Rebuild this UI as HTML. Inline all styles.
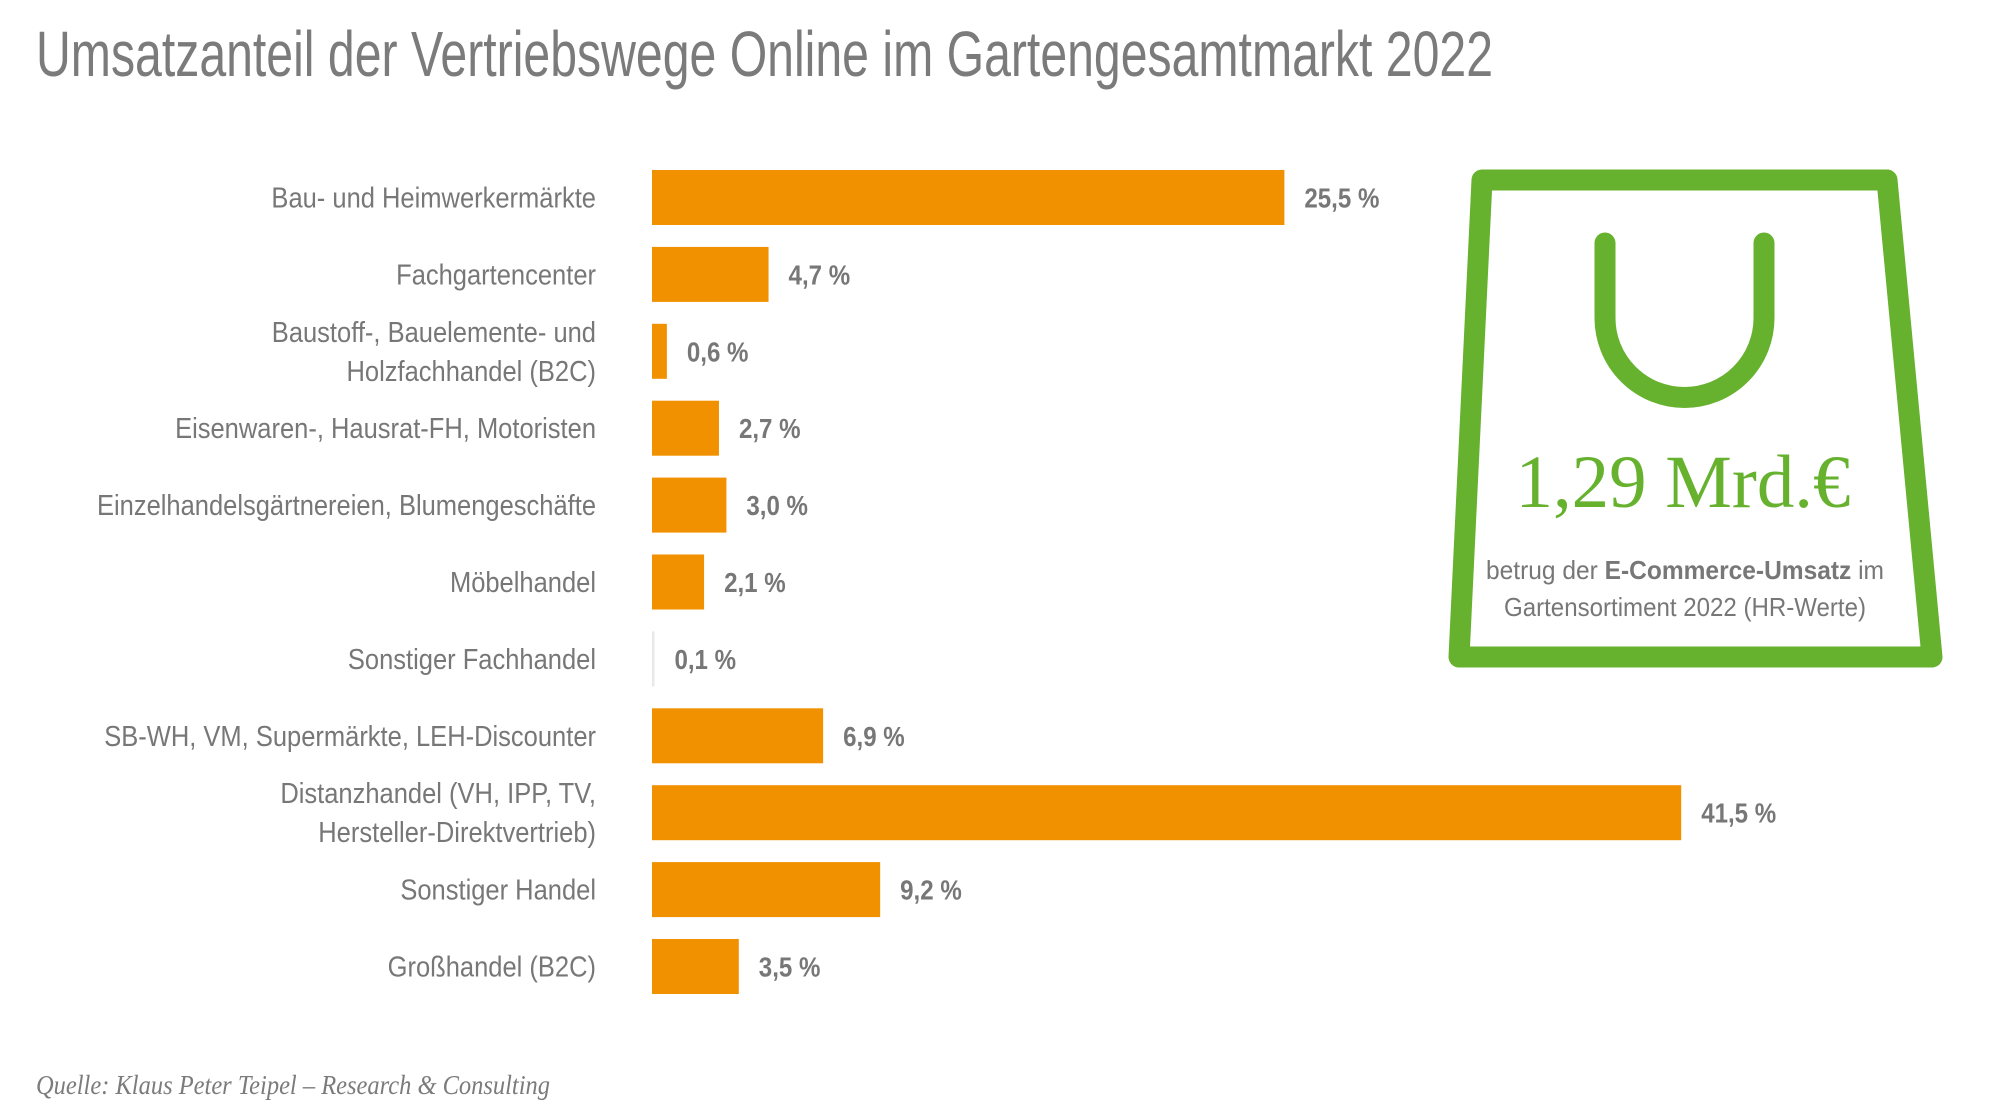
<!DOCTYPE html>
<html><head><meta charset="utf-8"><style>
html,body{margin:0;padding:0;background:#fff;}
svg{display:block;font-family:"Liberation Sans",sans-serif;}
</style></head><body>
<svg id="chart" width="2000" height="1119" viewBox="0 0 2000 1119">
<text x="36" y="76" font-size="64" fill="#7b7b7b" textLength="1457" lengthAdjust="spacingAndGlyphs">Umsatzanteil der Vertriebswege Online im Gartengesamtmarkt 2022</text>
<g id="bars"></g>
<g id="labels"></g>
<g id="values"></g>
<g>
<path d="M1482,180 L1887,180 L1932,657 L1459,657 Z" fill="none" stroke="#66b22e" stroke-width="21" stroke-linejoin="round"/>
<path d="M1605,243 L1605,318 A79.5,79.5 0 0 0 1764,318 L1764,243" fill="none" stroke="#66b22e" stroke-width="21" stroke-linecap="round"/>
<text x="1683" y="507" text-anchor="middle" font-family="Liberation Serif, serif" font-size="75" fill="#66b22e" textLength="335" lengthAdjust="spacingAndGlyphs">1,29 Mrd.€</text>
<text x="1685" y="579" text-anchor="middle" font-size="26" fill="#777" textLength="398" lengthAdjust="spacingAndGlyphs">betrug der <tspan font-weight="bold">E-Commerce-Umsatz</tspan> im</text>
<text x="1685" y="616" text-anchor="middle" font-size="26" fill="#777" textLength="362" lengthAdjust="spacingAndGlyphs">Gartensortiment 2022 (HR-Werte)</text>
</g>
<text x="36" y="1094" font-family="Liberation Serif, serif" font-style="italic" font-size="27" fill="#7b7b7b" textLength="514" lengthAdjust="spacingAndGlyphs">Quelle: Klaus Peter Teipel – Research &amp; Consulting</text>
</svg>
<script>
const categories = [
 ["Bau- und Heimwerkermärkte"],
 ["Fachgartencenter"],
 ["Baustoff-, Bauelemente- und ","Holzfachhandel (B2C)"],
 ["Eisenwaren-, Hausrat-FH, Motoristen"],
 ["Einzelhandelsgärtnereien, Blumengeschäfte"],
 ["Möbelhandel"],
 ["Sonstiger Fachhandel"],
 ["SB-WH, VM, Supermärkte, LEH-Discounter"],
 ["Distanzhandel (VH, IPP, TV, ","Hersteller-Direktvertrieb)"],
 ["Sonstiger Handel"],
 ["Großhandel (B2C)"]
];
const values = [25.5, 4.7, 0.6, 2.7, 3.0, 2.1, 0.1, 6.9, 41.5, 9.2, 3.5];
const valueLabels = ["25,5 %","4,7 %","0,6 %","2,7 %","3,0 %","2,1 %","0,1 %","6,9 %","41,5 %","9,2 %","3,5 %"];

const NS = "http://www.w3.org/2000/svg";
const x0 = 652, pxPerPct = 24.8;
const y0 = 197.5, step = 76.9, barH = 55;
const xScale = v => x0 + v * pxPerPct;
const yScale = i => y0 + i * step;
const bars = document.getElementById('bars');
const labels = document.getElementById('labels');
const vals = document.getElementById('values');

values.forEach((v, i) => {
  const cy = yScale(i);
  const r = document.createElementNS(NS, 'rect');
  r.setAttribute('x', x0);
  r.setAttribute('y', cy - barH / 2);
  r.setAttribute('width', Math.max(xScale(v) - x0, 1));
  r.setAttribute('height', barH);
  r.setAttribute('fill', v < 0.3 ? '#e8e8e8' : '#f29100');
  
  
  bars.appendChild(r);

  const g = document.createElementNS(NS, 'g');
  g.setAttribute('transform', 'translate(' + (xScale(v) + 20) + ',' + (cy + 10) + ') scale(0.86,1)');
  const t = document.createElementNS(NS, 'text');
  t.setAttribute('font-size', '28');
  t.setAttribute('font-weight', 'bold');
  t.setAttribute('fill', '#777');
  t.textContent = valueLabels[i];
  
  
  g.appendChild(t);
  vals.appendChild(g);

  const lines = categories[i];
  lines.forEach((ln, j) => {
    const ly = cy + 10 + (j - (lines.length - 1) / 2) * 39;
    const lg = document.createElementNS(NS, 'g');
    lg.setAttribute('transform', 'translate(596,' + ly + ') scale(0.88,1)');
    const lt = document.createElementNS(NS, 'text');
    lt.setAttribute('font-size', '29');
    lt.setAttribute('fill', '#777');
    lt.setAttribute('text-anchor', 'end');
    lt.textContent = ln;
    
    
    lg.appendChild(lt);
    labels.appendChild(lg);
  });
});
</script>
</body></html>
